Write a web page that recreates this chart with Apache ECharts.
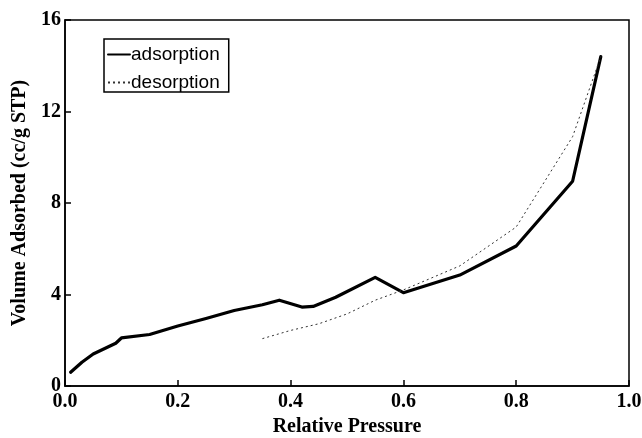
<!DOCTYPE html>
<html>
<head>
<meta charset="utf-8">
<script src="https://cdn.jsdelivr.net/npm/echarts@6/dist/echarts.min.js"></script>
<style>html,body{margin:0;padding:0;background:#fff}#c{width:642px;height:438px}</style>
</head>
<body>
<div id="c"></div>
<script>
var adsorptionP = [0.01,0.03,0.05,0.09,0.10,0.15,0.20,0.25,0.30,0.35,0.38,0.42,0.44,0.48,0.55,0.60,0.70,0.80,0.90,0.95];
var adsorptionV = [0.6,1.04,1.4,1.87,2.1,2.25,2.62,2.95,3.3,3.55,3.75,3.45,3.48,3.88,4.75,4.08,4.85,6.12,8.95,14.4];
var desorptionP = [0.35,0.40,0.45,0.50,0.55,0.60,0.70,0.80,0.90,0.95];
var desorptionV = [2.07,2.43,2.72,3.15,3.75,4.2,5.25,6.95,10.9,14.4];
var xTicks = [0,0.2,0.4,0.6,0.8,1.0];
var yTicks = [0,4,8,12,16];

function pairs(a,b){return a.map(function(v,i){return [v,b[i]];});}
var serif = '"Liberation Serif", "DejaVu Serif", serif';
var chart = echarts.init(document.getElementById('c'));
chart.setOption({
  animation:false,
  backgroundColor:'#fff',
  grid:{left:65,right:13,top:20,bottom:52,outerBoundsMode:'none',containLabel:false,show:true,borderColor:'#000',borderWidth:1.5,backgroundColor:'transparent'},
  legend:{
    orient:'vertical',left:104,top:39,
    borderColor:'#000',borderWidth:1.5,
    padding:[6,9,0,3],itemGap:9,itemWidth:22,itemHeight:14,
    itemStyle:{opacity:0},
    textStyle:{fontFamily:'"Liberation Sans", Arial, sans-serif',fontSize:19,color:'#000',padding:[0,0,0,-4]},
    data:['adsorption','desorption']
  },
  xAxis:{
    type:'value',min:xTicks[0],max:xTicks[xTicks.length-1],interval:0.2,
    name:'Relative Pressure',nameLocation:'middle',nameGap:30,
    nameTextStyle:{fontFamily:serif,fontWeight:'bold',fontSize:20,color:'#000'},
    axisLine:{lineStyle:{color:'#000',width:1.5}},
    axisTick:{inside:true,length:6,lineStyle:{color:'#000',width:1.5}},
    axisLabel:{margin:6,fontFamily:serif,fontWeight:'bold',fontSize:20,color:'#000',formatter:function(v){return v.toFixed(1);}},
    splitLine:{show:false}
  },
  yAxis:{
    type:'value',min:yTicks[0],max:yTicks[yTicks.length-1],interval:4,
    name:'Volume Adsorbed (cc/g STP)',nameLocation:'middle',nameGap:32,
    nameTextStyle:{fontFamily:serif,fontWeight:'bold',fontSize:20,color:'#000'},
    axisLine:{lineStyle:{color:'#000',width:1.5}},
    axisTick:{inside:true,length:6,lineStyle:{color:'#000',width:1.5}},
    axisLabel:{margin:4,fontFamily:serif,fontWeight:'bold',fontSize:20,color:'#000'},
    splitLine:{show:false}
  },
  series:[
    {name:'adsorption',type:'line',symbol:'none',data:pairs(adsorptionP,adsorptionV),
     lineStyle:{color:'#000',width:3.2,join:'round',cap:'round'},itemStyle:{color:'#000'}},
    {name:'desorption',type:'line',symbol:'none',data:pairs(desorptionP,desorptionV),
     lineStyle:{color:'#333',width:1,type:[2,3]},itemStyle:{color:'#333'}}
  ]
});
</script>
</body>
</html>
